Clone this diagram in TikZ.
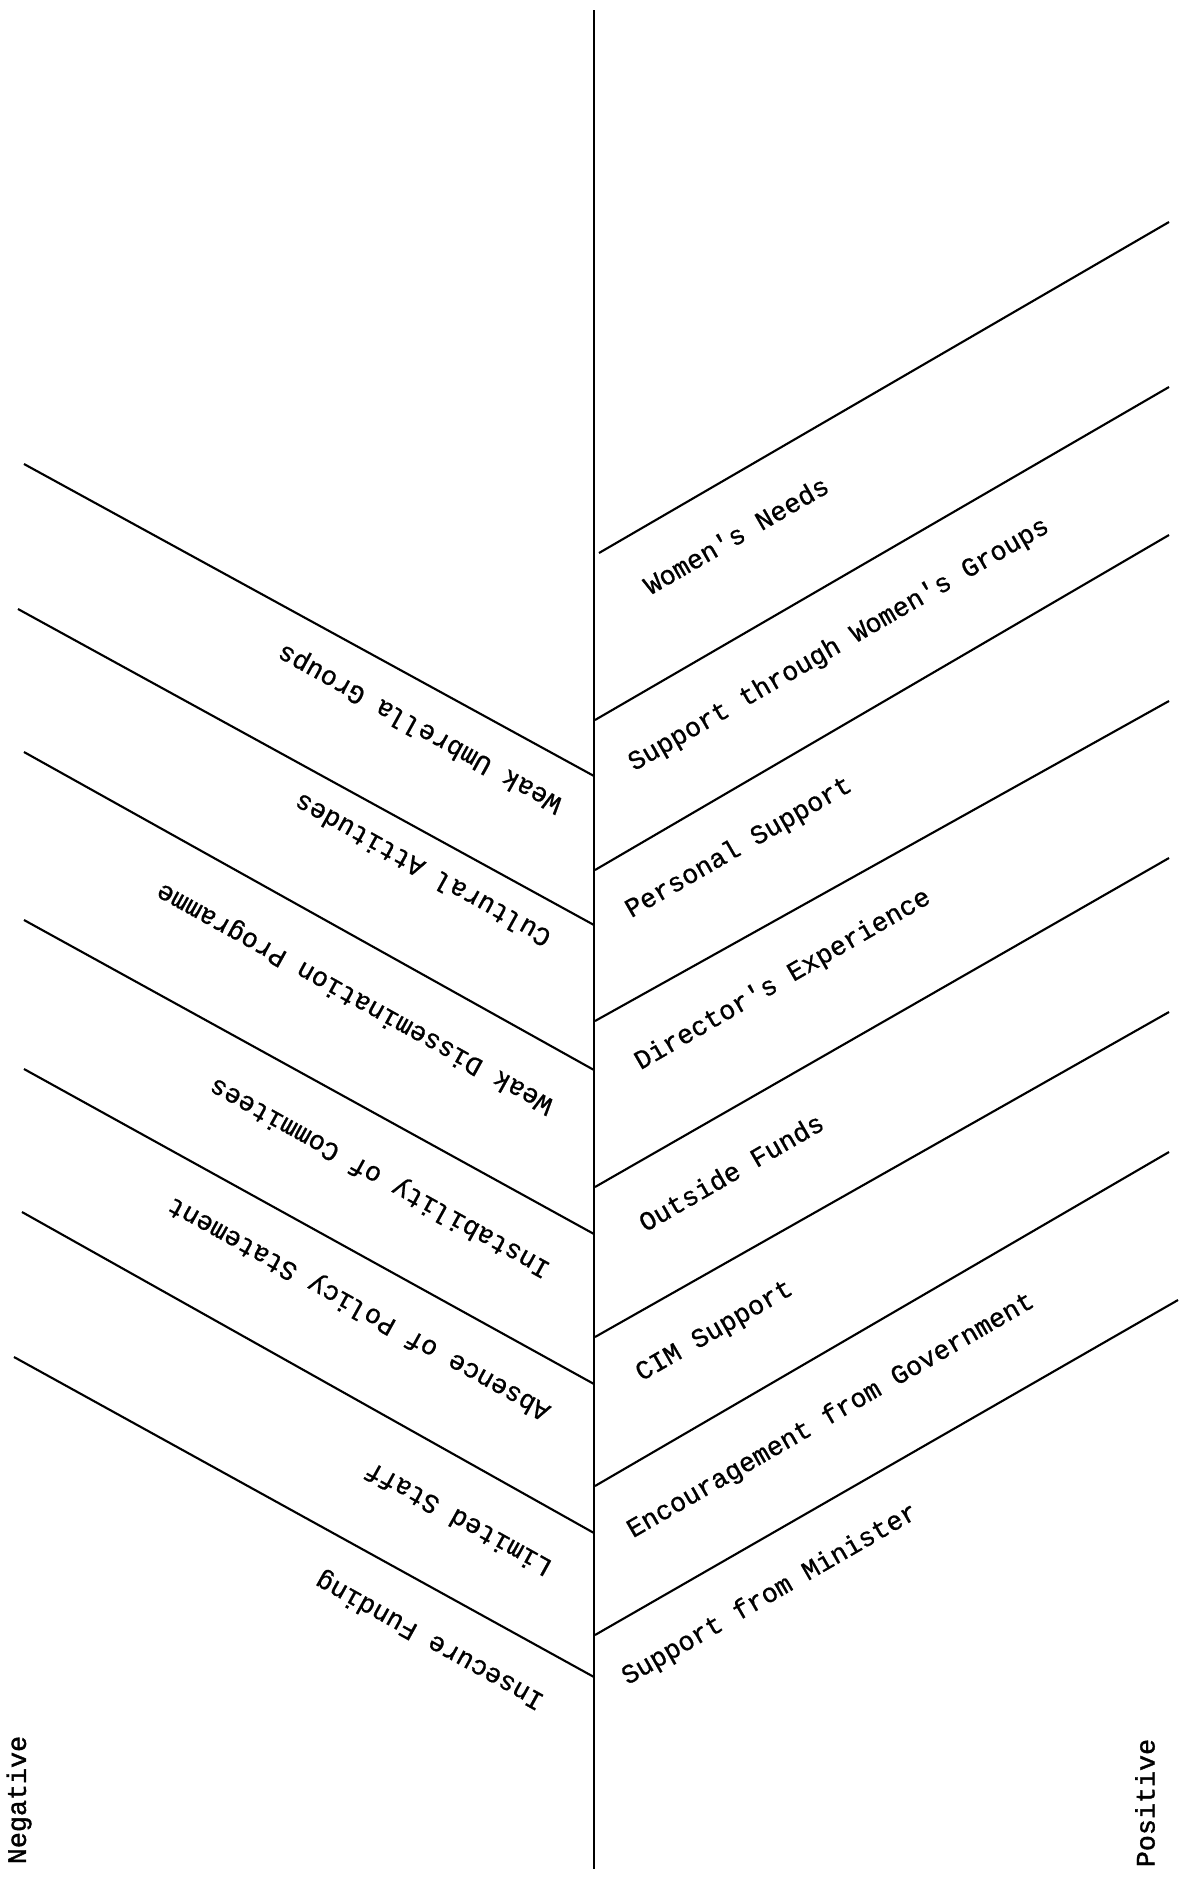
\documentclass[tikz,border=0pt]{standalone}
\usepackage{fontspec}
\setmonofont{Liberation Mono}[FakeBold=0.8]
\newfontfamily\sidefont{Liberation Mono}[FakeBold=1.4]
\usepackage{tikz}
\usetikzlibrary{positioning}

\tikzset{
  bone/.style={line width=0.6pt},
  spine/.style={line width=0.6pt},
  poslabel/.style={font=\ttfamily\fontsize{7.6}{9}\selectfont, rotate=30, inner sep=0pt},
  neglabel/.style={font=\ttfamily\fontsize{7.6}{9}\selectfont, rotate=151, inner sep=0pt},
  sidelabel/.style={font=\sidefont\fontsize{7.6}{9}\selectfont, rotate=90, inner sep=0pt}
}

\begin{document}
\begin{tikzpicture}[x=0.01cm, y=-0.01cm]

  \useasboundingbox (0,0) rectangle (1185,1878);

  % Spina centrale
  \coordinate (top) at (594,10);
  \coordinate (bottom) at (594,1869);
  \draw[spine] (top) -- (bottom);

  % Fattori positivi (a destra)
  \coordinate (r1) at (599,553);  \coordinate (r1e) at (1169,222);
  \coordinate (r2) at (595,720);  \coordinate (r2e) at (1169,387);
  \coordinate (r3) at (595,870);  \coordinate (r3e) at (1169,535);
  \coordinate (r4) at (595,1021); \coordinate (r4e) at (1169,701);
  \coordinate (r5) at (595,1187); \coordinate (r5e) at (1169,858);
  \coordinate (r6) at (595,1337); \coordinate (r6e) at (1169,1012);
  \coordinate (r7) at (595,1486); \coordinate (r7e) at (1169,1152);
  \coordinate (r8) at (595,1635); \coordinate (r8e) at (1178,1300);
  \foreach \i in {1,...,8} \draw[bone] (r\i) -- (r\i e);

  \node[poslabel] (needs)    at (736,535)  {Women's Needs};
  \node[poslabel] (groups)   at (839,645)  {Support through Women's Groups};
  \node[poslabel] (personal) at (739,848)  {Personal Support};
  \node[poslabel] (director) at (783,980)  {Director's Experience};
  \node[poslabel] (funds)    at (731,1172) {Outside Funds};
  \node[poslabel] (cim)      at (715,1332) {CIM Support};
  \node[poslabel] (govt)     at (831,1416) {Encouragement from Government};
  \node[poslabel] (minister) at (770,1595) {Support from Minister};

  % Fattori negativi (a sinistra)
  \coordinate (l1) at (24,464);  \coordinate (l1e) at (594,776);
  \coordinate (l2) at (18,609);  \coordinate (l2e) at (594,925);
  \coordinate (l3) at (24,752);  \coordinate (l3e) at (594,1070);
  \coordinate (l4) at (24,920);  \coordinate (l4e) at (594,1234);
  \coordinate (l5) at (24,1069); \coordinate (l5e) at (594,1384);
  \coordinate (l6) at (22,1212); \coordinate (l6e) at (594,1533);
  \coordinate (l7) at (14,1357); \coordinate (l7e) at (594,1677);
  \foreach \i in {1,...,7} \draw[bone] (l\i) -- (l\i e);

  \node[neglabel] (umbrella)  at (420,728)  {Weak Umbrella Groups};
  \node[neglabel] (attitudes) at (422,871)  {Cultural Attitudes};
  \node[neglabel] (dissem)    at (355,998)  {Weak Dissemination Programme};
  \node[neglabel] (committee) at (380,1177) {Instability of Commitees};
  \node[neglabel] (policy)    at (359,1308) {Absence of Policy Statement};
  \node[neglabel] (staff)     at (458,1520) {Limited Staff};
  \node[neglabel] (funding)   at (430,1640) {Insecure Funding};

  % Etichette laterali
  \node[sidelabel] (neg) at (19,1800)   {Negative};
  \node[sidelabel] (pos) at (1145,1803) {Positive};

\end{tikzpicture}
\end{document}
